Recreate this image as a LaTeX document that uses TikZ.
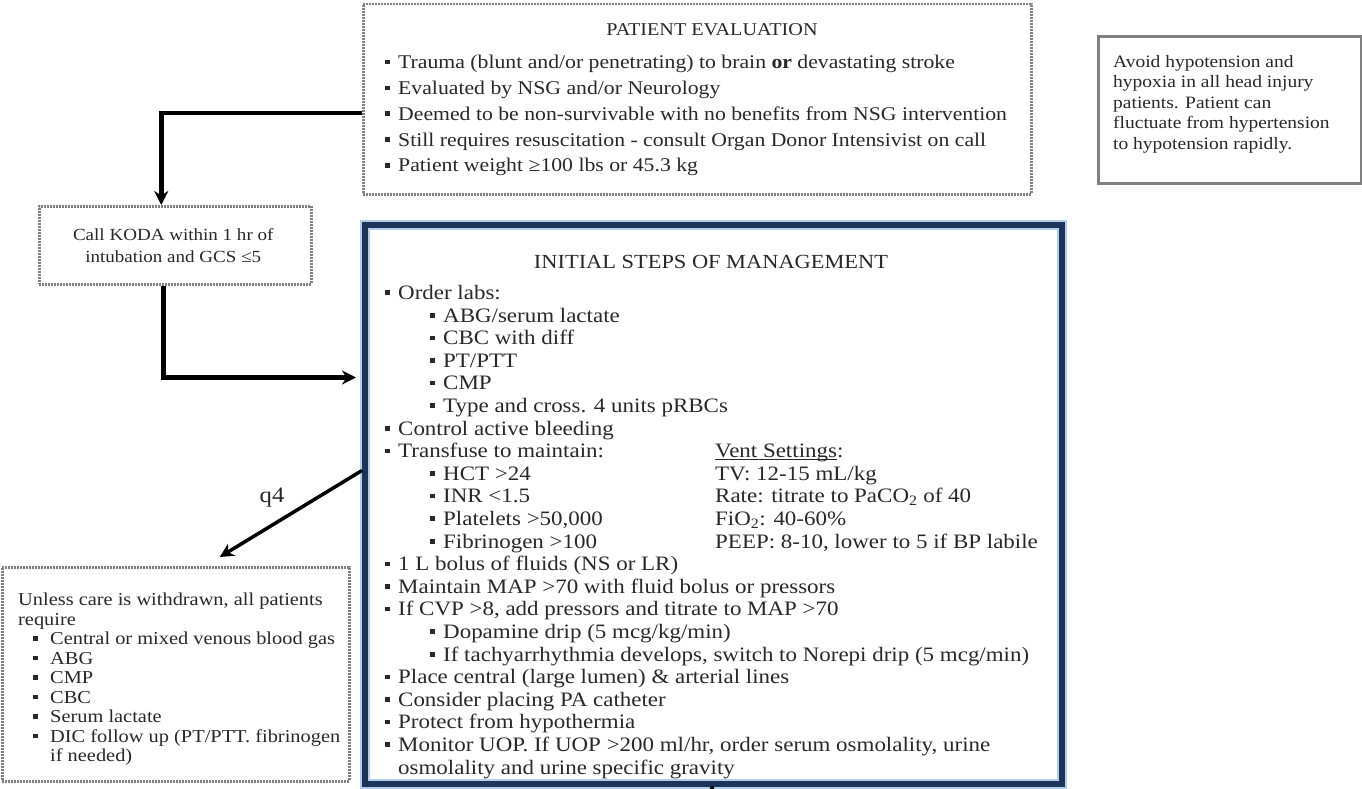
\documentclass[tikz,border=0pt]{standalone}
\usepackage{fontspec}
\setmainfont{Liberation Serif}[FakeStretch=1.12]
\usetikzlibrary{arrows.meta,positioning}
\definecolor{frameNavy}{RGB}{28,52,90}
\definecolor{glowBlue}{RGB}{178,206,234}
\definecolor{dotGray}{RGB}{128,128,128}
\definecolor{inkGray}{RGB}{40,40,40}
\newcommand{\bulletSq}{\rule[0.22em]{4.5pt}{4.5pt}}
\newcommand{\bulletMark}{\makebox[13pt][l]{\bulletSq}}
\newcommand{\subMark}{\hspace*{45pt}\bulletMark}
\newcommand{\labMark}{\hspace*{15pt}\makebox[17pt][l]{\bulletSq}}
\newcommand{\lineUnder}[1]{\setbox0\hbox{#1}\rlap{\rule[-2.5pt]{\wd0}{0.9pt}}\box0}
\tikzstyle{dottedBox} = [
 rectangle,
 draw=dotGray,
 line width=2.5pt,
 dash pattern=on 2pt off 1pt,
 anchor=north west,
 inner sep=0pt
]
\tikzstyle{noteBox} = [
 rectangle,
 draw=gray,
 line width=3pt,
 anchor=north west,
 inner sep=0pt
]
\tikzstyle{mainBox} = [
 rectangle,
 draw=frameNavy,
 line width=6pt,
 preaction={draw=glowBlue, line width=10pt},
 anchor=north west,
 inner sep=0pt
]
\tikzstyle{listText} = [
 anchor=north west,
 align=left,
 inner sep=0pt,
 text=inkGray
]
\tikzstyle{flowArrow} = [
 line width=4.5pt,
 -{Stealth[length=14pt,width=14pt]}
]

\begin{document}
\begin{tikzpicture}[x=1pt,y=-1pt]
  \useasboundingbox (0,0) rectangle (1362,789);
  % boxes
  \node [dottedBox, minimum width=668pt, minimum height=190pt] (evalBox) at (362,3) {};
  \node [noteBox, minimum width=263pt, minimum height=147pt] (hypoNote) at (1097,35) {};
  \node [dottedBox, minimum width=272pt, minimum height=78pt] (kodaBox) at (38,205) {};
  \node [dottedBox, minimum width=347pt, minimum height=214pt] (labsBox) at (1,566) {};
  % texts
  \node [text=inkGray, inner sep=0pt, font=\fontsize{18}{18}\selectfont] (evalTitle) at (712,30) {PATIENT EVALUATION};
  \node [listText, font=\fontsize{19.4}{25.8}\selectfont] (evalList) at (385,55) {
    \bulletMark Trauma (blunt and/or penetrating) to brain \textbf{or} devastating stroke\\
    \bulletMark Evaluated by NSG and/or Neurology\\
    \bulletMark Deemed to be non-survivable with no benefits from NSG intervention\\
    \bulletMark Still requires resuscitation - consult Organ Donor Intensivist on call\\
    \bulletMark Patient weight ≥100 lbs or 45.3 kg};
  \node [listText, font=\fontsize{17.4}{20.5}\selectfont] (hypoText) at (1113,55) {
    Avoid hypotension and\\
    hypoxia in all head injury\\
    patients. Patient can\\
    fluctuate from hypertension\\
    to hypotension rapidly.};
  \node [text=inkGray, align=center, inner sep=0pt, font=\fontsize{17}{22}\selectfont] (kodaText) at ([xshift=-2pt]kodaBox.center) {
    Call KODA within 1 hr of\\
    intubation and GCS ≤5};
  \node [listText, font=\fontsize{18.2}{19.5}\selectfont] (labsText) at (18,593) {
    Unless care is withdrawn, all patients\\
    require\\
    \labMark Central or mixed venous blood gas\\
    \labMark ABG\\
    \labMark CMP\\
    \labMark CBC\\
    \labMark Serum lactate\\
    \labMark DIC follow up (PT/PTT. fibrinogen\\
    \hspace*{32pt}if needed)};
  \node [text=inkGray, inner sep=0pt, font=\fontsize{20}{20}\selectfont] (mgmtTitle) at (711,262) {INITIAL STEPS OF MANAGEMENT};
  \node [listText, font=\fontsize{20.5}{22.6}\selectfont] (mgmtList) at (385,285) {
    \bulletMark Order labs:\\
    \subMark ABG/serum lactate\\
    \subMark CBC with diff\\
    \subMark PT/PTT\\
    \subMark CMP\\
    \subMark Type and cross. 4 units pRBCs\\
    \bulletMark Control active bleeding\\
    \bulletMark \makebox[317pt][l]{Transfuse to maintain:}\lineUnder{Vent Settings}:\\
    \subMark \makebox[272pt][l]{HCT >24}TV: 12-15 mL/kg\\
    \subMark \makebox[272pt][l]{INR <1.5}Rate: titrate to PaCO\textsubscript{2} of 40\\
    \subMark \makebox[272pt][l]{Platelets >50,000}FiO\textsubscript{2}: 40-60\%\\
    \subMark \makebox[272pt][l]{Fibrinogen >100}PEEP: 8-10, lower to 5 if BP labile\\
    \bulletMark 1 L bolus of fluids (NS or LR)\\
    \bulletMark Maintain MAP >70 with fluid bolus or pressors\\
    \bulletMark If CVP >8, add pressors and titrate to MAP >70\\
    \subMark Dopamine drip (5 mcg/kg/min)\\
    \subMark If tachyarrhythmia develops, switch to Norepi drip (5 mcg/min)\\
    \bulletMark Place central (large lumen) \& arterial lines\\
    \bulletMark Consider placing PA catheter\\
    \bulletMark Protect from hypothermia\\
    \bulletMark Monitor UOP. If UOP >200 ml/hr, order serum osmolality, urine\\
    \hspace*{13pt}osmolality and urine specific gravity};
  % main frame on top of the overflowing line
  \node [mainBox, minimum width=697pt, minimum height=559pt] (mgmtBox) at (362,222) {};
  \coordinate (cutEnd) at (710.5,789);
  % connectors
  \draw [flowArrow] ([yshift=-14pt]evalBox.west) -| ([xshift=-14pt]kodaBox.north);
  \draw [flowArrow, shorten >=6pt] ([xshift=-12pt]kodaBox.south) |- ([yshift=127pt]mgmtBox.west);
  \draw [flowArrow, line width=3.5pt] ([yshift=34pt]mgmtBox.west) -- ([xshift=44pt,yshift=9pt]labsBox.north)
    node [midway, above left=2pt, text=inkGray, font=\fontsize{22}{22}\selectfont] (qLabel) {q4};
  \draw [line width=3pt] (mgmtBox.south) -- (cutEnd);
\end{tikzpicture}
\end{document}
